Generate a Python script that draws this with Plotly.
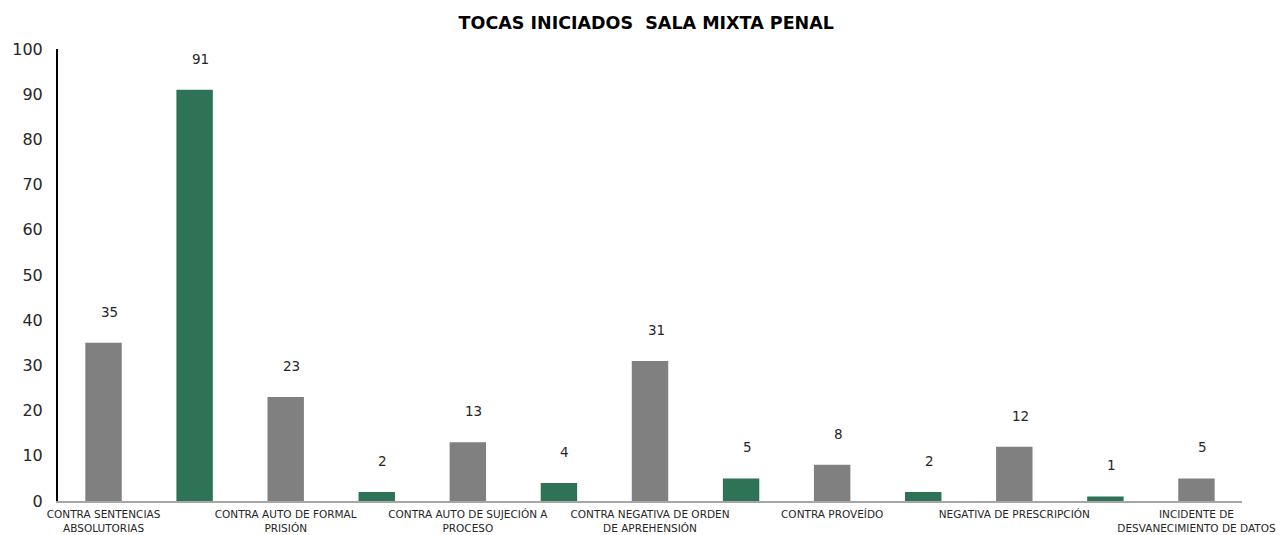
import plotly.graph_objects as go

categories = [
    "CONTRA SENTENCIAS<br>ABSOLUTORIAS", "",
    "CONTRA AUTO DE FORMAL<br>PRISIÓN", "",
    "CONTRA AUTO DE SUJECIÓN A<br>PROCESO", "",
    "CONTRA NEGATIVA DE ORDEN<br>DE APREHENSIÓN", "",
    "CONTRA PROVEÍDO", "",
    "NEGATIVA DE PRESCRIPCIÓN", "",
    "INCIDENTE DE<br>DESVANECIMIENTO DE DATOS",
]
values = [35, 91, 23, 2, 13, 4, 31, 5, 8, 2, 12, 1, 5]
series_group = ["gray", "green", "gray", "green", "gray", "green", "gray",
                "green", "gray", "green", "gray", "green", "gray"]
y_ticks = [0, 10, 20, 30, 40, 50, 60, 70, 80, 90, 100]

color_map = {"gray": "#808080", "green": "#2E7355"}
positions = list(range(len(values)))
FONT = "DejaVu Sans"

fig = go.Figure()
fig.add_trace(go.Bar(
    x=positions, y=values,
    marker=dict(color=[color_map[g] for g in series_group], line=dict(width=0)),
    hoverinfo="x+y",
))

for p, v in zip(positions, values):
    fig.add_annotation(x=p, y=v, text=str(v), showarrow=False,
                       yshift=31, xshift=6,
                       font=dict(family=FONT, size=13.5, color="#262626"))

fig.update_layout(
    width=1281, height=535,
    margin=dict(l=58, r=39, t=49, b=34),
    plot_bgcolor="white", paper_bgcolor="white",
    bargap=0.6,
    showlegend=False,
    title=dict(text="<b>TOCAS INICIADOS  SALA MIXTA PENAL</b>", x=0.5045, xanchor="center",
               y=0.958, yanchor="middle",
               font=dict(family=FONT, size=17.5, color="#000000")),
    font=dict(family=FONT),
)
fig.update_xaxes(
    tickmode="array", tickvals=positions, ticktext=categories,
    range=[-0.5, len(values) - 0.5],
    showline=True, linecolor="#A6A6A6", linewidth=1.5,
    ticks="", showgrid=False, zeroline=False,
    ticklabelstandoff=3,
    tickfont=dict(family=FONT, size=10.5, color="#262626"),
    automargin=False,
)
fig.update_yaxes(
    range=[0, 100], tickvals=y_ticks,
    showline=True, linecolor="#000000", linewidth=2,
    showgrid=False, zeroline=False, ticks="",
    ticklabelstandoff=10,
    tickfont=dict(family=FONT, size=16, color="#262626"),
    automargin=False,
)

fig.write_html("out.html",
               config={"displayModeBar": False},
               post_script="document.body.style.margin='0';document.body.style.overflow='hidden';")
